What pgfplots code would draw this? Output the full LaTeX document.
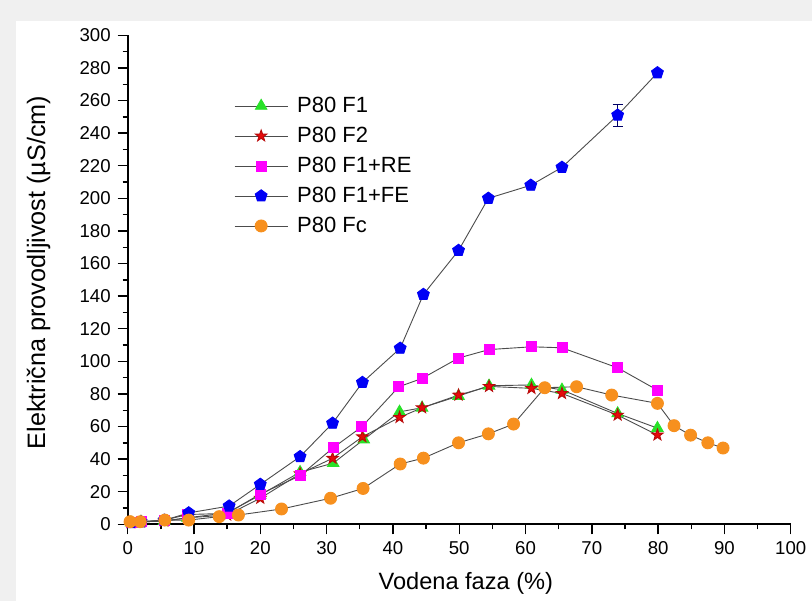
\documentclass[border=0pt]{standalone}
\usepackage{fontspec}
\setmainfont{Liberation Sans}
\usepackage{pgfplots}
\pgfplotsset{compat=1.18}
\usetikzlibrary{plotmarks}
\definecolor{cgreen}{RGB}{40,225,40}
\definecolor{cred}{RGB}{230,10,10}
\definecolor{cmag}{RGB}{255,0,255}
\definecolor{cblue}{RGB}{0,0,245}
\definecolor{corange}{RGB}{247,144,30}
\pgfdeclareplotmark{fstar}{%
  \pgfpathmoveto{\pgfpointpolar{90}{1.15\pgfplotmarksize}}%
  \pgfpathlineto{\pgfpointpolar{126}{0.46\pgfplotmarksize}}%
  \pgfpathlineto{\pgfpointpolar{162}{1.15\pgfplotmarksize}}%
  \pgfpathlineto{\pgfpointpolar{198}{0.46\pgfplotmarksize}}%
  \pgfpathlineto{\pgfpointpolar{234}{1.15\pgfplotmarksize}}%
  \pgfpathlineto{\pgfpointpolar{270}{0.46\pgfplotmarksize}}%
  \pgfpathlineto{\pgfpointpolar{306}{1.15\pgfplotmarksize}}%
  \pgfpathlineto{\pgfpointpolar{342}{0.46\pgfplotmarksize}}%
  \pgfpathlineto{\pgfpointpolar{18}{1.15\pgfplotmarksize}}%
  \pgfpathlineto{\pgfpointpolar{54}{0.46\pgfplotmarksize}}%
  \pgfpathclose
  \pgfusepathqfillstroke
}
\begin{document}
\begin{tikzpicture}
\fill[black!6] (-63.85pt,-38.35pt) rectangle (342.15pt,262.15pt);
\fill[white] (-55.85pt,-38.35pt) rectangle (342.15pt,251.65pt);
\path[use as bounding box] (-63.85pt,-38.35pt) rectangle (342.15pt,262.15pt);
\begin{axis}[
  at={(0,0)}, anchor=south west,
  scale only axis, width=331.5pt, height=244.5pt,
  xmin=0, xmax=100, ymin=0, ymax=300,
  axis lines*=left,
  axis line style={line width=0.9pt},
  xtick={0,10,...,100}, ytick={0,20,...,300},
  minor x tick num=1, minor y tick num=1,
  tick align=outside,
  major tick length=5pt, minor tick length=2.5pt,
  tick style={line width=0.7pt, black},
  /pgf/number format/assume math mode=true,
  ticklabel style={font=\fontsize{9.3}{11}\selectfont},
  xlabel={Vodena faza (\%)},
  ylabel={Električna provodljivost (µS/cm)},
  xlabel style={font=\fontsize{11.8}{13}\selectfont, at={(axis description cs:0.51,-0.12)}, anchor=center},
  ylabel style={font=\fontsize{12.6}{14}\selectfont, at={(axis description cs:-0.1345,0.515)}, anchor=center},
  clip=false,
  every axis plot/.append style={line width=0.45pt, black!70},
  legend style={at={(axis description cs:0.151,0.886)}, anchor=north west,
    draw=none, fill=none, font=\fontsize{11}{13}\selectfont,
    nodes={inner sep=0pt, text height=8.5pt, text depth=2pt},
    row sep=4.5pt, column sep=4.5pt},
  legend cell align=left,
  legend image code/.code={\draw[mark repeat=2,mark phase=2] plot coordinates {(0pt,0pt) (13.25pt,0pt) (26.5pt,0pt)};},
]
\addplot[mark=triangle*, mark size=3.3pt, mark options={solid, fill=cgreen, draw=cgreen}] coordinates {
(0.5,1) (2,1.5) (5.5,2) (9,4) (15,7) (20,18) (26,32) (31,37.5) (35.6,52) (41,69) (44.4,71.5) (49.9,78.7) (54.5,85) (60.9,85.5) (65.5,82.5) (73.9,68) (79.9,59)};
\addlegendentry{P80 F1}
\addplot[mark=fstar, mark size=2.6pt, mark options={solid, fill=cred, draw=cred!80!black}] coordinates {
(0.5,1) (2,1.5) (5.5,2) (9,4) (15,5.7) (20,16) (26,31) (30.9,40.5) (35.4,53.7) (41,65.6) (44.4,71.5) (49.9,79.3) (54.5,84.6) (60.9,83.4) (65.5,80.3) (73.9,67) (79.9,54.8)};
\addlegendentry{P80 F2}
\addplot[mark=square*, mark size=2.5pt, mark options={solid, fill=cmag, draw=cmag}] coordinates {
(0.5,1) (2,1.5) (5.5,2.5) (9,6) (15,6.7) (20,18.6) (26,29.8) (31,47) (35.3,59.8) (40.9,84.4) (44.4,89.5) (49.9,102) (54.5,107.2) (60.9,108.9) (65.5,108.3) (73.9,96) (79.9,82.3)};
\addlegendentry{P80 F1+RE}
\addplot[forget plot, draw=none, mark=none, error bars/.cd, y dir=both, y explicit,
  error bar style={line width=0.6pt, blue!40!black}, error mark options={rotate=90, mark size=2.5pt, line width=0.6pt, blue!40!black}] coordinates {(73.9,251) +- (0,6.7)};
\addplot[mark=pentagon*, mark size=3.1pt, mark options={solid, fill=cblue, draw=cblue}] coordinates {
(0.5,1) (2,1.5) (5.5,2.5) (9.2,7) (15.3,11.2) (20,24.5) (26,41.5) (30.9,62) (35.4,87) (41.1,108) (44.6,141) (49.9,168) (54.4,200) (60.8,208) (65.5,219) (73.9,251) (79.9,277)};
\addlegendentry{P80 F1+FE}
\addplot[mark=*, mark size=3pt, mark options={solid, fill=corange, draw=corange}] coordinates {
(0.35,1.6) (1.9,1.6) (5.6,2.6) (9.2,2.6) (13.8,4.7) (16.7,5.7) (23.2,9.4) (30.6,16) (35.5,22) (41.1,37) (44.6,40.6) (49.9,50) (54.4,55.5) (58.2,61.5) (62.9,83.8) (67.7,84.4) (73,79.3) (79.9,74.2) (82.4,60.5) (84.9,54.7) (87.5,50) (89.8,46.8)};
\addlegendentry{P80 Fc}
\end{axis}
\end{tikzpicture}
\end{document}
